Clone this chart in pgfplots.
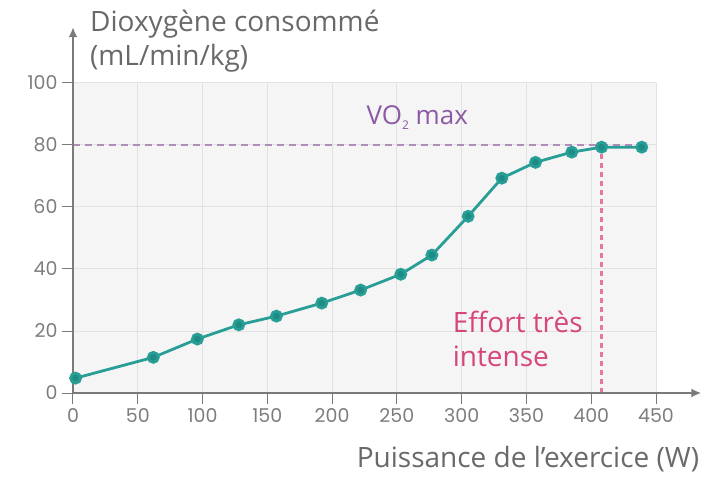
\documentclass[border=0pt]{standalone}
\usepackage{pgfplots}
\pgfplotsset{compat=1.18}
\usetikzlibrary{arrows.meta}
\usepackage{fontspec}
\setmainfont{Open Sans}
\newfontfamily\tickfont{Poppins}
\definecolor{lineteal}{RGB}{40,158,150}
\definecolor{tealdark}{RGB}{28,140,132}
\definecolor{vopurple}{RGB}{140,90,165}
\definecolor{vodash}{RGB}{175,140,185}
\definecolor{effpink}{RGB}{214,70,125}
\definecolor{effdash}{RGB}{228,120,160}
\definecolor{axgray}{RGB}{122,122,122}
\definecolor{txtgray}{RGB}{105,105,105}
\definecolor{ticktxt}{RGB}{125,125,125}
\definecolor{bggray}{RGB}{245,245,245}
\definecolor{gridgray}{RGB}{226,226,226}
\begin{document}
\begin{tikzpicture}
\begin{axis}[
  anchor=origin, at={(0pt,0pt)},
  scale only axis,
  width=583pt, height=310pt,
  xmin=0, xmax=450, ymin=0, ymax=100,
  xtick={0,50,...,450}, ytick={0,20,...,100},
  grid=major,
  major grid style={gridgray, line width=1pt},
  axis background/.style={fill=bggray},
  axis line style={draw=none},
  tick align=outside,
  xtick pos=bottom, ytick pos=left,
  major tick length=11pt,
  major tick style={axgray, line width=1pt},
  tick label style={font=\tickfont\fontsize{19}{19}\selectfont, text=ticktxt},
  /pgf/number format/assume math mode=true,
  xticklabel style={yshift=-1pt},
  yticklabel style={xshift=-1pt},
  clip=false,
]
\addplot[draw=vodash, line width=1.3pt, dash pattern=on 7pt off 5pt, no marks] coordinates {(0,80) (440,80)};
\addplot[draw=effdash, line width=2.2pt, dash pattern=on 5pt off 4pt, no marks] coordinates {(408,0) (408,79)};
\draw[axgray, line width=2pt, -{Latex[length=10pt,width=9pt]}] (axis cs:0,0) -- (axis cs:485,0);
\draw[axgray, line width=2pt, -{Latex[length=10pt,width=9pt]}] (axis cs:0,0) -- (axis cs:0,118);
\addplot[lineteal, line width=2.8pt, mark=*, mark size=5pt, mark options={fill=tealdark, draw=none, solid}] coordinates {
(2,4.8) (62,11.5) (96,17.4) (128,22) (157,24.8) (192,29) (222,33.2)
(253,38.3) (277,44.5) (305,57) (331,69.3) (357,74.4) (385,77.7)
(408,79.3) (439,79.3)
};
\node[vopurple, font=\fontsize{26}{30}\selectfont, anchor=base west, inner sep=0pt] at (axis cs:226.5,86.5) {VO\raisebox{-5pt}{\fontsize{12}{12}\selectfont 2} max};
\node[effpink, font=\fontsize{28}{32}\selectfont, anchor=base west, inner sep=0pt] at (axis cs:293,19.4) {Effort très};
\node[effpink, font=\fontsize{28}{32}\selectfont, anchor=base west, inner sep=0pt] at (axis cs:293,8.4) {intense};
\node[txtgray, font=\fontsize{28}{32}\selectfont, anchor=base west, inner sep=0pt] at (axis cs:13.1,116.5) {Dioxygène consommé};
\node[txtgray, font=\fontsize{28}{32}\selectfont, anchor=base west, inner sep=0pt] at (axis cs:13.1,105.5) {(mL/min/kg)};
\node[txtgray, font=\fontsize{28}{32}\selectfont, anchor=base east, inner sep=0pt] at (axis cs:483.4,-23.9) {Puissance de l’exercice (W)};
\end{axis}
\pgfresetboundingbox
\path (-73pt,-86pt) rectangle (631pt,393pt);
\end{tikzpicture}
\end{document}
